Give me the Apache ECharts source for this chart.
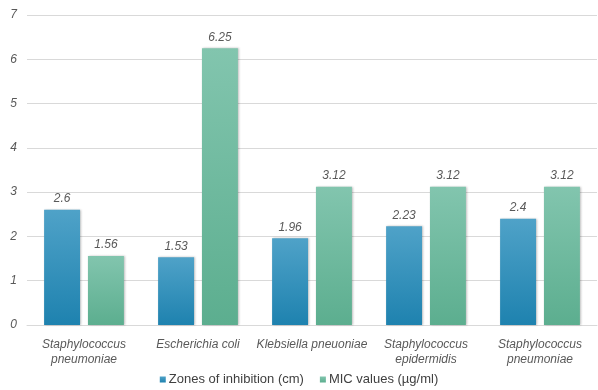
<!DOCTYPE html>
<html>
<head>
<meta charset="utf-8">
<script src="https://cdn.jsdelivr.net/npm/echarts@6/dist/echarts.min.js"></script>
<style>
  html, body { margin: 0; padding: 0; background: #fff; }
  #chart { width: 598px; height: 390px; }
</style>
</head>
<body>
<div id="chart"></div>
<script>
// Bacterial strains tested
const categories = [
  'Staphylococcus\npneumoniae',
  'Escherichia coli',
  'Klebsiella pneuoniae',
  'Staphylococcus\nepidermidis',
  'Staphylococcus\npneumoniae'
];
// Zones of inhibition (cm)
const zones = [2.6, 1.53, 1.96, 2.23, 2.4];
// MIC values (µg/ml)
const mic = [1.56, 6.25, 3.12, 3.12, 3.12];
// Value axis
const yMin = 0, yMax = 7, yStep = 1;

const chart = echarts.init(document.getElementById('chart'), null, { renderer: 'canvas' });

function grad(top, bottom) {
  return new echarts.graphic.LinearGradient(0, 0, 0, 1, [
    { offset: 0, color: top },
    { offset: 1, color: bottom }
  ]);
}

const labelStyle = {
  show: true,
  position: 'top',
  distance: 5,
  color: '#595959',
  fontStyle: 'italic',
  fontFamily: 'Liberation Sans, Arial, sans-serif',
  fontSize: 12
};

chart.setOption({
  animation: false,
  backgroundColor: '#fff',
  grid: { left: 27, right: 1, top: 15, bottom: 65 },
  legend: {
    bottom: -1,
    left: 'center',
    itemWidth: 6,
    itemHeight: 6,
    itemGap: 16,
    icon: 'rect',
    textStyle: {
      color: '#404040',
      fontSize: 13,
      fontFamily: 'Liberation Sans Narrow, Arial Narrow, sans-serif',
      padding: [0, 0, 0, -2]
    },
    data: ['Zones of inhibition (cm)', 'MIC values (µg/ml)']
  },
  xAxis: {
    type: 'category',
    data: categories,
    axisLine: { show: true, lineStyle: { color: '#d9d9d9' } },
    axisTick: { show: false },
    axisLabel: {
      color: '#595959',
      fontStyle: 'italic',
      fontSize: 12,
      lineHeight: 15,
      margin: 12,
      interval: 0,
      fontFamily: 'Liberation Sans, Arial, sans-serif'
    }
  },
  yAxis: {
    type: 'value',
    min: yMin,
    max: yMax,
    interval: yStep,
    axisLine: { show: false },
    axisTick: { show: false },
    splitLine: { lineStyle: { color: '#d9d9d9', width: 1 } },
    axisLabel: {
      color: '#595959',
      fontStyle: 'italic',
      fontSize: 12,
      margin: 10,
      fontFamily: 'Liberation Sans, Arial, sans-serif'
    }
  },
  series: [
    {
      name: 'Zones of inhibition (cm)',
      type: 'bar',
      data: zones,
      barGap: '22%',
      barCategoryGap: '30%',
      color: '#2a8dbb',
      itemStyle: {
        color: grad('#4fa2c8', '#1e82af'),
        shadowColor: 'rgba(0,0,0,0.25)',
        shadowBlur: 2,
        shadowOffsetX: 1,
        shadowOffsetY: 0
      },
      label: labelStyle
    },
    {
      name: 'MIC values (µg/ml)',
      type: 'bar',
      data: mic,
      color: '#6dbb9e',
      itemStyle: {
        color: grad('#82c5ae', '#5cae8f'),
        shadowColor: 'rgba(0,0,0,0.25)',
        shadowBlur: 2,
        shadowOffsetX: 1,
        shadowOffsetY: 0
      },
      label: labelStyle
    }
  ]
});
</script>
</body>
</html>
